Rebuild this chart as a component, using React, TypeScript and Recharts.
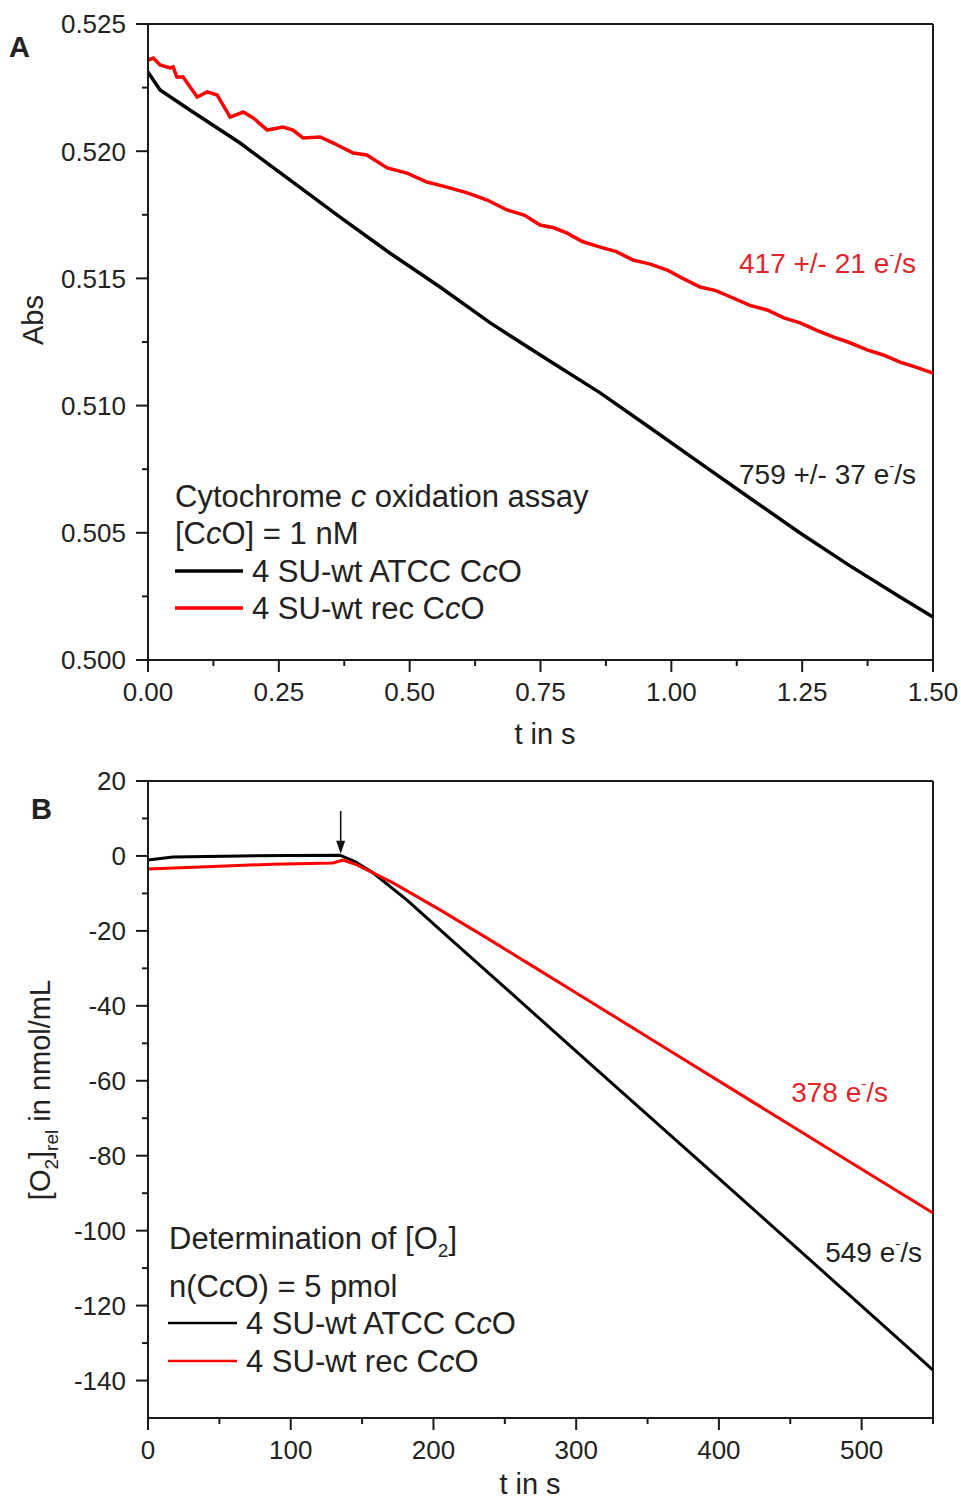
import React from 'react';
import { LineChart, Line, XAxis, YAxis, ReferenceLine } from 'recharts';

// Panel A: cytochrome c oxidation assay (absorbance vs. time)
const tAtccA = [0, 0.023, 0.08, 0.176, 0.271, 0.367, 0.462, 0.558, 0.654, 0.76, 0.864, 0.96, 1.055, 1.15, 1.246, 1.34, 1.437, 1.5];
const absAtcc = [0.52311, 0.52241, 0.52162, 0.52032, 0.51887, 0.51741, 0.516, 0.51466, 0.51325, 0.51185, 0.5105, 0.50912, 0.50774, 0.50637, 0.50499, 0.50372, 0.50248, 0.50169];

const tRecA = [0, 0.01, 0.023, 0.042, 0.048, 0.055, 0.067, 0.094, 0.113, 0.132, 0.157, 0.182, 0.201, 0.228, 0.258, 0.277, 0.296, 0.329, 0.354, 0.392, 0.418, 0.457, 0.495, 0.533, 0.571, 0.61, 0.648, 0.686, 0.72, 0.749, 0.775, 0.801, 0.83, 0.864, 0.895, 0.927, 0.96, 0.992, 1.02, 1.055, 1.085, 1.118, 1.15, 1.183, 1.215, 1.246, 1.278, 1.309, 1.34, 1.374, 1.405, 1.437, 1.47, 1.5];
const absRec = [0.52358, 0.52366, 0.52339, 0.52327, 0.52331, 0.52292, 0.52292, 0.52213, 0.52233, 0.52221, 0.52134, 0.52154, 0.52131, 0.52083, 0.52095, 0.52083, 0.52052, 0.52056, 0.52032, 0.51993, 0.51985, 0.51934, 0.51914, 0.51879, 0.51859, 0.51836, 0.51808, 0.51769, 0.51748, 0.5171, 0.51699, 0.51678, 0.51645, 0.51623, 0.51605, 0.51572, 0.51556, 0.51533, 0.51502, 0.51466, 0.51452, 0.51423, 0.51394, 0.51376, 0.51345, 0.51325, 0.51296, 0.5127, 0.51248, 0.51219, 0.51199, 0.51171, 0.51149, 0.51128];

const absMajor = [0.5, 0.505, 0.51, 0.515, 0.52, 0.525];
const absMinor = [0.5025, 0.5075, 0.5125, 0.5175, 0.5225];
const tsMajor = [0, 0.25, 0.5, 0.75, 1.0, 1.25, 1.5];
const tsMinor = [0.125, 0.375, 0.625, 0.875, 1.125, 1.375];

// Panel B: oxygen consumption (relative O2 vs. time)
const tAtccB = [0, 17.5, 64.5, 100, 134.5, 145, 157.6, 181.5, 213.7, 251.5, 274.6, 316.7, 386.8, 456.8, 526.9, 550];
const o2Atcc = [-1.1, -0.3, 0.0, 0.1, 0.2, -1.5, -4.5, -11.8, -22.8, -35.6, -43.5, -57.8, -81.6, -105.4, -129.3, -137.2];

const tRecB = [0, 41.3, 87.6, 129.6, 136.6, 146.4, 171.7, 204.6, 239.6, 274.6, 300.6, 363.6, 433.7, 503.8, 550];
const o2Rec = [-3.5, -2.9, -2.2, -1.9, -1.1, -2.4, -7.2, -14.4, -22.4, -30.6, -36.7, -51.5, -68.0, -84.5, -95.3];

const o2Major = [-140, -120, -100, -80, -60, -40, -20, 0, 20];
const o2Minor = [-130, -110, -90, -70, -50, -30, -10, 10];
const sMajor = [0, 100, 200, 300, 400, 500];
const sMinor = [50, 150, 250, 350, 450, 550];

const injectionTime = 135;

const toSeries = (xs: number[], ys: number[]) => xs.map((t, i) => ({ t, v: ys[i] }));

const AXIS = '#1a1a1a';
const RED = '#ff0000';
const RED_TEXT = '#e0262c';
const TICK_FONT = '"Liberation Sans Narrow", "Liberation Sans", Arial, sans-serif';
const TEXT_FONT = '"Liberation Sans", Arial, sans-serif';
const MAJOR_LEN = 12;
const MINOR_LEN = 6;
const GAP = 10;
const TICK_SIZE = 26;
const LEGEND_SIZE = 31;

const isIn = (list: number[], v: number) => list.some((m) => Math.abs(m - v) < 1e-9);

function makeYTick(major: number[], digits: number) {
  return (props: any) => {
    const { x, y, payload } = props;
    const major_ = isIn(major, payload.value);
    const ax = x + MAJOR_LEN + GAP;
    return (
      <g>
        <line x1={ax - (major_ ? MAJOR_LEN : MINOR_LEN)} x2={ax} y1={y} y2={y} stroke={AXIS} strokeWidth={2} />
        {major_ && (
          <text x={x} y={y} dy="0.36em" textAnchor="end" fontSize={TICK_SIZE} fontFamily={TICK_FONT} fill="#222">
            {payload.value.toFixed(digits)}
          </text>
        )}
      </g>
    );
  };
}

function makeXTick(major: number[], digits: number) {
  return (props: any) => {
    const { x, y, payload } = props;
    const major_ = isIn(major, payload.value);
    const ay = y - MAJOR_LEN - GAP;
    return (
      <g>
        <line x1={x} x2={x} y1={ay} y2={ay + (major_ ? MAJOR_LEN : MINOR_LEN)} stroke={AXIS} strokeWidth={2} />
        {major_ && (
          <text x={x} y={y} dy="0.74em" textAnchor="middle" fontSize={TICK_SIZE} fontFamily={TICK_FONT} fill="#222">
            {payload.value.toFixed(digits)}
          </text>
        )}
      </g>
    );
  };
}

const ArrowShape = (props: any) => {
  const { x1, y1, x2, y2 } = props;
  if (x1 == null) return null;
  return (
    <g>
      <line x1={x1} y1={y1} x2={x2} y2={y2 - 10} stroke="#111" strokeWidth={1.6} />
      <polygon points={`${x2 - 4.5},${y2 - 13} ${x2 + 4.5},${y2 - 13} ${x2},${y2}`} fill="#111" />
    </g>
  );
};

const Rate = ({ x, y, value, color }: { x: number; y: number; value: string; color: string }) => (
  <text x={x} y={y} textAnchor="end" fontSize={28} fontFamily={TEXT_FONT} fill={color}>
    {value} e<tspan dy={-13} fontSize={15}>-</tspan>
    <tspan dy={13} fontSize={28}>/s</tspan>
  </text>
);

const Overlay = () => (
  <svg width={961} height={1502} style={{ position: 'absolute', left: 0, top: 0, pointerEvents: 'none' }}>
    <g fontFamily={TEXT_FONT} fill="#222">
      {/* panel letters */}
      <text x={9} y={57} fontSize={29} fontWeight="bold">A</text>
      <text x={31} y={819} fontSize={29} fontWeight="bold">B</text>

      {/* axis titles, panel A */}
      <text x={0} y={0} fontSize={29} textAnchor="middle" transform="translate(43 320) rotate(-90)">Abs</text>
      <text x={545} y={744} fontSize={29} textAnchor="middle">t in s</text>

      {/* axis titles, panel B */}
      <text x={0} y={0} fontSize={29} textAnchor="middle" transform="translate(50 1090) rotate(-90)">
        [O<tspan dy={8} fontSize={19}>2</tspan>
        <tspan dy={-8}>]</tspan>
        <tspan dy={8} fontSize={19}>rel</tspan>
        <tspan dy={-8}> in nmol/mL</tspan>
      </text>
      <text x={530} y={1494} fontSize={29} textAnchor="middle">t in s</text>

      {/* legend, panel A */}
      <text x={175} y={507} fontSize={LEGEND_SIZE}>
        Cytochrome <tspan fontStyle="italic">c</tspan> oxidation assay
      </text>
      <text x={175} y={544} fontSize={LEGEND_SIZE}>
        [C<tspan fontStyle="italic">c</tspan>O] = 1 nM
      </text>
      <line x1={175} x2={243} y1={571} y2={571} stroke="#000" strokeWidth={3.5} />
      <text x={252} y={582} fontSize={LEGEND_SIZE}>
        4 SU-wt ATCC C<tspan fontStyle="italic">c</tspan>O
      </text>
      <line x1={175} x2={243} y1={608} y2={608} stroke={RED} strokeWidth={3.5} />
      <text x={252} y={619} fontSize={LEGEND_SIZE}>
        4 SU-wt rec C<tspan fontStyle="italic">c</tspan>O
      </text>

      {/* legend, panel B */}
      <text x={169} y={1249} fontSize={LEGEND_SIZE}>
        Determination of [O<tspan dy={8} fontSize={19}>2</tspan>
        <tspan dy={-8}>]</tspan>
      </text>
      <text x={169} y={1297} fontSize={LEGEND_SIZE}>
        n(C<tspan fontStyle="italic">c</tspan>O) = 5 pmol
      </text>
      <line x1={168} x2={237} y1={1323} y2={1323} stroke="#000" strokeWidth={2.5} />
      <text x={246} y={1334} fontSize={LEGEND_SIZE}>
        4 SU-wt ATCC C<tspan fontStyle="italic">c</tspan>O
      </text>
      <line x1={168} x2={237} y1={1361} y2={1361} stroke={RED} strokeWidth={2.5} />
      <text x={246} y={1372} fontSize={LEGEND_SIZE}>
        4 SU-wt rec C<tspan fontStyle="italic">c</tspan>O
      </text>
    </g>

    {/* turnover rates */}
    <Rate x={916} y={273} value="417 +/- 21" color={RED_TEXT} />
    <Rate x={916} y={484} value="759 +/- 37" color="#222" />
    <Rate x={888} y={1102} value="378" color={RED_TEXT} />
    <Rate x={922} y={1262} value="549" color="#222" />
  </svg>
);

export default function App() {
  const seriesAtccA = toSeries(tAtccA, absAtcc);
  const seriesRecA = toSeries(tRecA, absRec);
  const seriesAtccB = toSeries(tAtccB, o2Atcc);
  const seriesRecB = toSeries(tRecB, o2Rec);

  return (
    <div style={{ position: 'absolute', left: 0, top: 0, width: 961, height: 1502, background: '#fff' }}>
      <div style={{ position: 'absolute', left: 0, top: 0 }}>
        <LineChart width={961} height={760} margin={{ top: 24, right: 28, left: 0, bottom: 0 }}>
          <XAxis
            dataKey="t"
            type="number"
            domain={[0, 1.5]}
            ticks={[...tsMajor, ...tsMinor].sort((a, b) => a - b)}
            interval={0}
            height={100}
            tickSize={MAJOR_LEN}
            tickMargin={GAP}
            tickLine={false}
            tick={makeXTick(tsMajor, 2)}
            axisLine={{ stroke: AXIS, strokeWidth: 2 }}
          />
          <YAxis
            type="number"
            domain={[0.5, 0.525]}
            ticks={[...absMajor, ...absMinor].sort((a, b) => a - b)}
            interval={0}
            width={148}
            tickSize={MAJOR_LEN}
            tickMargin={GAP}
            tickLine={false}
            tick={makeYTick(absMajor, 3)}
            axisLine={{ stroke: AXIS, strokeWidth: 2 }}
          />
          <ReferenceLine y={0.525} stroke={AXIS} strokeWidth={2} />
          <ReferenceLine x={1.5} stroke={AXIS} strokeWidth={2} />
          <Line data={seriesRecA} dataKey="v" stroke={RED} strokeWidth={3.5} dot={false} isAnimationActive={false} />
          <Line data={seriesAtccA} dataKey="v" stroke="#000" strokeWidth={3.5} dot={false} isAnimationActive={false} />
        </LineChart>
      </div>
      <div style={{ position: 'absolute', left: 0, top: 760 }}>
        <LineChart width={961} height={742} margin={{ top: 21, right: 28, left: 0, bottom: 0 }}>
          <XAxis
            dataKey="t"
            type="number"
            domain={[0, 550]}
            ticks={[...sMajor, ...sMinor].sort((a, b) => a - b)}
            interval={0}
            height={84}
            tickSize={MAJOR_LEN}
            tickMargin={GAP}
            tickLine={false}
            tick={makeXTick(sMajor, 0)}
            axisLine={{ stroke: AXIS, strokeWidth: 2 }}
          />
          <YAxis
            type="number"
            domain={[-150, 20]}
            ticks={[...o2Major, ...o2Minor].sort((a, b) => a - b)}
            interval={0}
            width={148}
            tickSize={MAJOR_LEN}
            tickMargin={GAP}
            tickLine={false}
            tick={makeYTick(o2Major, 0)}
            axisLine={{ stroke: AXIS, strokeWidth: 2 }}
          />
          <ReferenceLine y={20} stroke={AXIS} strokeWidth={2} />
          <ReferenceLine x={550} stroke={AXIS} strokeWidth={2} />
          <Line data={seriesAtccB} dataKey="v" stroke="#000" strokeWidth={3} dot={false} isAnimationActive={false} />
          <Line data={seriesRecB} dataKey="v" stroke={RED} strokeWidth={3} dot={false} isAnimationActive={false} />
          <ReferenceLine
            segment={[
              { x: injectionTime, y: 12 },
              { x: injectionTime, y: 0.6 },
            ]}
            shape={ArrowShape}
          />
        </LineChart>
      </div>
      <Overlay />
    </div>
  );
}
